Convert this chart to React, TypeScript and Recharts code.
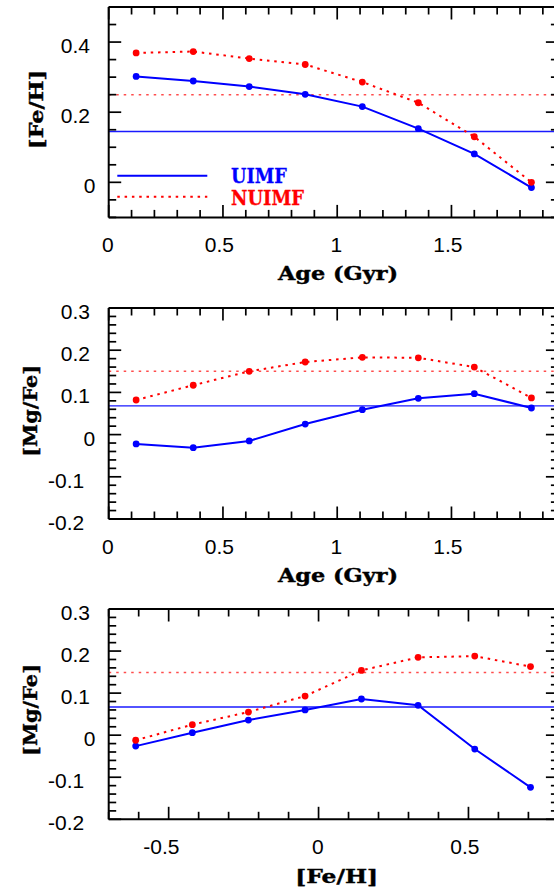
import { LineChart, Line, XAxis, YAxis, ReferenceLine } from 'recharts';

// x values (Age in Gyr) for the first two panels
const ageGyr = [0.12, 0.37, 0.615, 0.86, 1.11, 1.355, 1.6, 1.85];
// [Fe/H] vs age
const feHUimf = [0.302, 0.289, 0.273, 0.251, 0.216, 0.153, 0.081, -0.015];
const feHNuimf = [0.369, 0.373, 0.353, 0.336, 0.286, 0.227, 0.13, 0.0];
// [Mg/Fe] vs age
const mgFeAgeUimf = [-0.022, -0.031, -0.015, 0.025, 0.059, 0.086, 0.097, 0.063];
const mgFeAgeNuimf = [0.082, 0.117, 0.15, 0.172, 0.183, 0.182, 0.16, 0.087];
// [Mg/Fe] vs [Fe/H]
const feHBins = [-0.61, -0.421, -0.234, -0.045, 0.143, 0.332, 0.521, 0.707];
const mgFeFeUimf = [-0.026, 0.006, 0.036, 0.06, 0.086, 0.071, -0.033, -0.124];
const mgFeFeNuimf = [-0.012, 0.025, 0.055, 0.093, 0.154, 0.185, 0.188, 0.163];

// horizontal reference levels [UIMF, NUIMF]
const feHLevels = [0.145, 0.25];
const mgFeAgeLevels = [0.068, 0.15];
const mgFeFeLevels = [0.067, 0.149];

const seriesNames = ['UIMF', 'NUIMF'];

// tick values
const ageTicks = [0, 0.1, 0.2, 0.3, 0.4, 0.5, 0.6, 0.7, 0.8, 0.9, 1, 1.1, 1.2, 1.3, 1.4, 1.5, 1.6, 1.7, 1.8, 1.9];
const ageMajor = [0, 0.5, 1, 1.5];
const feHTicks = [-0.7, -0.6, -0.5, -0.4, -0.3, -0.2, -0.1, 0, 0.1, 0.2, 0.3, 0.4, 0.5, 0.6, 0.7, 0.8];
const feHMajor = [-0.5, 0, 0.5];
const feHYTicks = [-0.1, -0.05, 0, 0.05, 0.1, 0.15, 0.2, 0.25, 0.3, 0.35, 0.4, 0.45, 0.5];
const feHYMajor = [0, 0.2, 0.4];
const mgFeTicks = [-0.2, -0.18, -0.16, -0.14, -0.12, -0.1, -0.08, -0.06, -0.04, -0.02, 0, 0.02, 0.04, 0.06, 0.08, 0.1, 0.12, 0.14, 0.16, 0.18, 0.2, 0.22, 0.24, 0.26, 0.28, 0.3];
const mgFeMajor = [-0.2, -0.1, 0, 0.1, 0.2, 0.3];

const BLUE = '#0000ff';
const RED = '#ff0000';
const seriesColors = [BLUE, RED];
const seriesDash = [undefined, '2.5 4.8'];
const NUM_FONT = '"Liberation Sans", Arial, sans-serif';
const TITLE_FONT = '"DejaVu Serif", serif';

const CHART_W = 570;
const PLOT_LEFT = 108.7;
const PLOT_RIGHT = 558.4;
const MAJOR_LEN = 12.5;
const MINOR_LEN = 7.5;

type Side = 'bottom' | 'top' | 'left' | 'right';

const isIn = (list: number[], v: number) => list.some((m) => Math.abs(m - v) < 1e-6);

function makeTick(side: Side, majors: number[], labels: boolean) {
  return (props: any) => {
    const { x, y, payload } = props;
    const v = payload.value as number;
    const major = isIn(majors, v);
    const len = major ? MAJOR_LEN : MINOR_LEN;
    let x2 = x;
    let y2 = y;
    if (side === 'bottom') y2 = y - len;
    if (side === 'top') y2 = y + len;
    if (side === 'left') x2 = x + len;
    if (side === 'right') x2 = x - len;
    const txt = String(v);
    let label = null;
    if (labels && major) {
      if (side === 'bottom') {
        const dx = (txt.includes('.') ? -3.6 : -0.8) + (v < 0 ? -3.6 : 0);
        label = (
          <text x={x + dx} y={y + 35} textAnchor="middle" fontFamily={NUM_FONT} fontSize={21} fill="#000">
            {txt}
          </text>
        );
      } else if (side === 'left') {
        const gap = v === 0 ? 13.4 : v < 0 ? 24.5 : 18.7;
        label = (
          <text x={x - gap} y={y + 11} textAnchor="end" fontFamily={NUM_FONT} fontSize={21} fill="#000">
            {txt}
          </text>
        );
      }
    }
    return (
      <g>
        <line x1={x} y1={y} x2={x2} y2={y2} stroke="#000" strokeWidth={1.7} />
        {label}
      </g>
    );
  };
}

function SeriesKey({ left, top }: { left: number; top: number }) {
  const textLen = [55.7, 73];
  return (
    <svg width={200} height={52} style={{ position: 'absolute', left, top, display: 'block', overflow: 'visible' }}>
      {seriesNames.map((name, i) => (
        <g key={name}>
          <line
            x1={7.3}
            x2={97.3}
            y1={15.7 + i * 21}
            y2={15.7 + i * 21}
            stroke={seriesColors[i]}
            strokeWidth={2}
            strokeDasharray={seriesDash[i]}
          />
          <text
            x={121}
            y={22.7 + i * 22.3}
            fill={seriesColors[i]}
            stroke={seriesColors[i]}
            strokeWidth={0.3}
            fontFamily={TITLE_FONT}
            fontWeight="bold"
            fontSize={20}
            textLength={textLen[i]}
            lengthAdjust="spacingAndGlyphs"
          >
            {name}
          </text>
        </g>
      ))}
    </svg>
  );
}

interface PanelProps {
  plotTop: number;
  plotH: number;
  xs: number[];
  uVals: number[];
  nVals: number[];
  levels: number[];
  xDomain: [number, number];
  xTicks: number[];
  xMajor: number[];
  yDomain: [number, number];
  yTicks: number[];
  yMajor: number[];
  xTitle: string;
  xTitleX: number;
  xTitleY: number;
  xTitleLen: number;
  yTitle: string;
  yTitleX: number;
  yTitleY: number;
  yTitleLen: number;
}

function Panel(p: PanelProps) {
  const chartTop = p.plotTop - 8;
  const height = 8 + p.plotH + 80;
  const data = p.xs.map((x, i) => ({ x, u: p.uVals[i], n: p.nVals[i] }));
  const axisLine = { stroke: '#000', strokeWidth: 2 };
  const titleProps = {
    fontFamily: TITLE_FONT,
    fontWeight: 'bold' as const,
    fontSize: 19,
    fill: '#000',
    stroke: '#000',
    strokeWidth: 0.4,
    lengthAdjust: 'spacingAndGlyphs',
  };
  return (
    <div style={{ position: 'absolute', left: 0, top: chartTop }}>
      <LineChart
        width={CHART_W}
        height={height}
        data={data}
        margin={{ top: 7, right: CHART_W - PLOT_RIGHT - 1, bottom: 0, left: 0 }}
      >
        <XAxis
          xAxisId="b"
          dataKey="x"
          type="number"
          domain={p.xDomain}
          allowDataOverflow
          ticks={p.xTicks}
          interval={0}
          height={80}
          tickSize={0}
          tickMargin={0}
          tickLine={false}
          axisLine={axisLine}
          tick={makeTick('bottom', p.xMajor, true)}
          label={{
            content: () => (
              <text x={p.xTitleX} y={p.xTitleY - chartTop} textAnchor="middle" textLength={p.xTitleLen} {...titleProps}>
                {p.xTitle}
              </text>
            ),
          }}
        />
        <XAxis
          xAxisId="t"
          dataKey="x"
          orientation="top"
          type="number"
          domain={p.xDomain}
          allowDataOverflow
          ticks={p.xTicks}
          interval={0}
          height={1}
          tickSize={0}
          tickMargin={0}
          tickLine={false}
          axisLine={axisLine}
          tick={makeTick('top', p.xMajor, false)}
        />
        <YAxis
          yAxisId="l"
          type="number"
          domain={p.yDomain}
          allowDataOverflow
          ticks={p.yTicks}
          interval={0}
          width={PLOT_LEFT}
          tickSize={0}
          tickMargin={0}
          tickLine={false}
          axisLine={axisLine}
          tick={makeTick('left', p.yMajor, true)}
          label={{
            content: () => (
              <text
                transform={`translate(${p.yTitleX}, ${p.yTitleY - chartTop}) rotate(-90)`}
                textAnchor="middle"
                textLength={p.yTitleLen}
                {...titleProps}
              >
                {p.yTitle}
              </text>
            ),
          }}
        />
        <YAxis
          yAxisId="r"
          orientation="right"
          type="number"
          domain={p.yDomain}
          allowDataOverflow
          ticks={p.yTicks}
          interval={0}
          width={1}
          tickSize={0}
          tickMargin={0}
          tickLine={false}
          axisLine={axisLine}
          tick={makeTick('right', p.yMajor, false)}
        />
        <ReferenceLine xAxisId="b" yAxisId="l" y={p.levels[0]} stroke="#1a1aff" strokeWidth={1.4} />
        <ReferenceLine
          xAxisId="b"
          yAxisId="l"
          y={p.levels[1]}
          stroke={RED}
          strokeOpacity={0.7}
          strokeWidth={1.5}
          strokeDasharray="2.5 5"
        />
        {/* hidden copy that ties the top axis to the same x values */}
        <Line
          xAxisId="t"
          yAxisId="r"
          dataKey="u"
          stroke="none"
          dot={false}
          legendType="none"
          isAnimationActive={false}
        />
        <Line
          xAxisId="b"
          yAxisId="l"
          dataKey="u"
          name={seriesNames[0]}
          stroke={BLUE}
          strokeWidth={2}
          dot={{ r: 3.4, fill: BLUE, stroke: 'none' }}
          isAnimationActive={false}
        />
        <Line
          xAxisId="b"
          yAxisId="l"
          dataKey="n"
          name={seriesNames[1]}
          stroke={RED}
          strokeWidth={2}
          strokeDasharray={seriesDash[1]}
          dot={{ r: 3.4, fill: RED, stroke: 'none', strokeDasharray: '' }}
          isAnimationActive={false}
        />
      </LineChart>
    </div>
  );
}

export default function App() {
  return (
    <div
      style={{
        position: 'absolute',
        left: 0,
        top: 0,
        width: 554,
        height: 890,
        overflow: 'hidden',
        background: '#fff',
      }}
    >
      <Panel
        plotTop={7.3}
        plotH={210.4}
        xs={ageGyr}
        uVals={feHUimf}
        nVals={feHNuimf}
        levels={feHLevels}
        xDomain={[0, 1.968]}
        xTicks={ageTicks}
        xMajor={ageMajor}
        yDomain={[-0.1, 0.5]}
        yTicks={feHYTicks}
        yMajor={feHYMajor}
        xTitle="Age (Gyr)"
        xTitleX={338}
        xTitleY={280.5}
        xTitleLen={120}
        yTitle="[Fe/H]"
        yTitleX={43}
        yTitleY={109.7}
        yTitleLen={79}
      />
      <Panel
        plotTop={307.7}
        plotH={211}
        xs={ageGyr}
        uVals={mgFeAgeUimf}
        nVals={mgFeAgeNuimf}
        levels={mgFeAgeLevels}
        xDomain={[0, 1.968]}
        xTicks={ageTicks}
        xMajor={ageMajor}
        yDomain={[-0.2, 0.3]}
        yTicks={mgFeTicks}
        yMajor={mgFeMajor}
        xTitle="Age (Gyr)"
        xTitleX={338}
        xTitleY={581.5}
        xTitleLen={120}
        yTitle="[Mg/Fe]"
        yTitleX={36.5}
        yTitleY={410.5}
        yTitleLen={92}
      />
      <Panel
        plotTop={609}
        plotH={210.3}
        xs={feHBins}
        uVals={mgFeFeUimf}
        nVals={mgFeFeNuimf}
        levels={mgFeFeLevels}
        xDomain={[-0.7, 0.8]}
        xTicks={feHTicks}
        xMajor={feHMajor}
        yDomain={[-0.2, 0.3]}
        yTicks={mgFeTicks}
        yMajor={mgFeMajor}
        xTitle="[Fe/H]"
        xTitleX={336.7}
        xTitleY={883.5}
        xTitleLen={83}
        yTitle="[Mg/Fe]"
        yTitleX={36.5}
        yTitleY={710}
        yTitleLen={92}
      />
      <SeriesKey left={110} top={160} />
    </div>
  );
}
